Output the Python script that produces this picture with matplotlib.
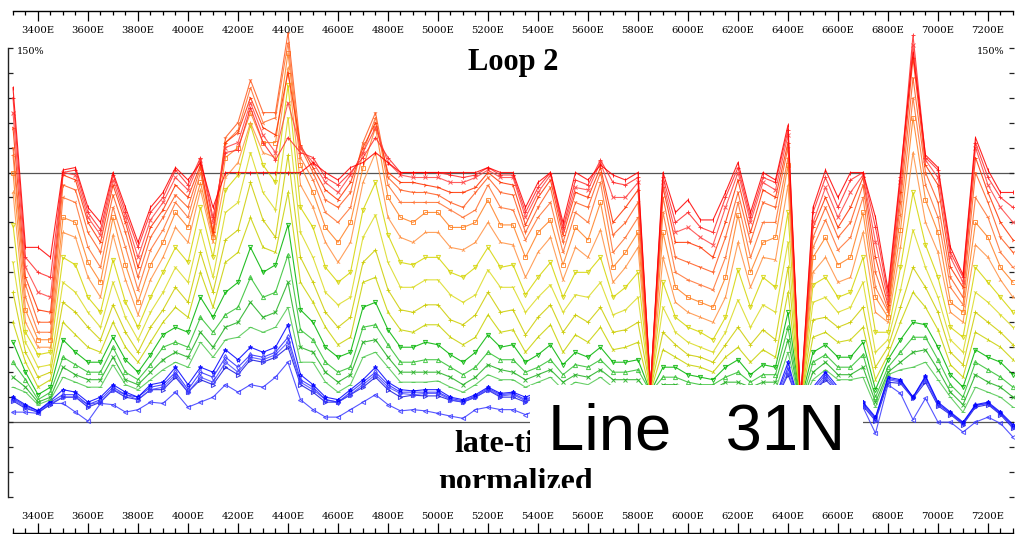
import matplotlib.pyplot as plt
from matplotlib.patches import Rectangle
from matplotlib.transforms import Bbox

# stations along Line 31N (easting, m)
stations = list(range(3300, 7350, 50))
tick_labels = ["%dE" % e for e in range(3400, 7201, 200)]

# channel responses, % (late-time normalized), early (red) -> late (blue)
ch01 = [134, 70, 70, 66, 101, 102, 86, 80, 100, 86, 72, 86, 92, 102, 97, 104, 86, 100, 100, 100, 100, 100, 100, 100, 104, 100, 97, 102, 104, 108, 104, 100, 100, 100, 100, 100, 100, 100, 102, 100, 100, 86, 96, 100, 80, 100, 97, 103, 99, 97, 100, 14, 100, 84, 89, 81, 81, 92, 104, 84, 100, 97, 119, 8, 86, 101, 90, 100, 100, 82, 53, 100, 148, 107, 102, 70, 59, 114, 101, 92, 92]
ch02 = [130, 66, 60, 58, 100, 101, 84, 77, 99, 84, 70, 84, 90, 101, 95, 106, 82, 108, 109, 126, 112, 105, 114, 108, 106, 98, 95, 100, 106, 114, 106, 100, 100, 100, 100, 99, 98, 99, 102, 99, 99, 84, 94, 100, 78, 97, 95, 105, 96, 95, 98, 14, 98, 80, 84, 78, 76, 90, 102, 82, 98, 96, 117, 8, 84, 98, 86, 97, 100, 78, 51, 98, 155, 106, 101, 68, 58, 112, 98, 90, 86]
ch03 = [124, 62, 52, 50, 100, 99, 82, 75, 97, 82, 66, 81, 88, 98, 93, 105, 80, 110, 112, 128, 115, 108, 128, 110, 104, 96, 92, 99, 108, 118, 104, 99, 98, 98, 98, 96, 96, 98, 101, 98, 98, 82, 92, 99, 77, 94, 93, 104, 90, 90, 96, 14, 96, 76, 78, 74, 71, 86, 100, 80, 96, 93, 115, 8, 80, 94, 82, 92, 99, 72, 49, 96, 151, 105, 98, 66, 56, 110, 95, 86, 80]
ch04 = [118, 58, 45, 44, 99, 97, 80, 72, 95, 80, 62, 78, 85, 95, 90, 103, 76, 112, 116, 130, 118, 115, 140, 111, 102, 93, 89, 96, 110, 120, 100, 96, 96, 95, 94, 92, 92, 94, 100, 96, 95, 79, 90, 97, 75, 92, 90, 102, 80, 86, 93, 14, 94, 72, 72, 70, 66, 80, 97, 76, 93, 90, 112, 8, 78, 90, 78, 86, 98, 66, 47, 92, 146, 103, 95, 62, 54, 106, 92, 80, 73]
ch05 = [110, 55, 40, 40, 95, 93, 76, 68, 91, 76, 58, 74, 82, 91, 86, 102, 76, 114, 120, 137, 124, 124, 156, 110, 100, 89, 86, 92, 112, 124, 98, 93, 92, 92, 91, 88, 86, 92, 98, 92, 91, 76, 86, 94, 72, 88, 86, 100, 75, 80, 88, 14, 90, 66, 64, 62, 60, 74, 92, 72, 88, 86, 110, 8, 74, 86, 74, 80, 95, 60, 45, 88, 138, 100, 88, 58, 50, 100, 88, 74, 68]
ch06 = [107, 50, 36, 36, 90, 88, 70, 62, 86, 70, 53, 69, 77, 88, 82, 100, 75, 112, 117, 134, 120, 122, 152, 106, 97, 84, 80, 86, 108, 122, 95, 88, 88, 88, 88, 85, 82, 85, 95, 86, 85, 73, 82, 88, 68, 84, 80, 96, 68, 74, 82, 14, 84, 60, 57, 55, 53, 66, 88, 66, 80, 80, 106, 8, 70, 81, 69, 74, 90, 54, 44, 83, 130, 95, 82, 54, 47, 90, 82, 68, 62]
ch07 = [100, 45, 33, 33, 82, 80, 64, 56, 82, 63, 48, 63, 72, 84, 78, 96, 74, 106, 110, 124, 112, 112, 148, 103, 92, 78, 72, 80, 102, 118, 90, 82, 80, 84, 84, 78, 78, 80, 89, 79, 79, 66, 76, 81, 63, 78, 73, 88, 62, 68, 76, 14, 76, 54, 50, 48, 46, 58, 83, 60, 72, 74, 103, 8, 66, 74, 63, 66, 84, 50, 42, 77, 122, 89, 76, 48, 44, 80, 74, 62, 56]
ch08 = [92, 40, 30, 30, 76, 74, 58, 50, 75, 57, 43, 57, 66, 78, 72, 93, 72, 98, 104, 120, 108, 106, 142, 95, 86, 72, 64, 72, 96, 108, 82, 74, 72, 76, 76, 70, 69, 72, 80, 72, 71, 58, 68, 74, 57, 70, 66, 77, 56, 62, 70, 13, 66, 48, 44, 42, 40, 50, 72, 54, 66, 65, 95, 8, 60, 66, 56, 58, 76, 44, 40, 70, 108, 80, 68, 44, 40, 71, 66, 57, 50]
ch09 = [79, 36, 27, 28, 66, 63, 50, 44, 65, 48, 38, 50, 60, 70, 64, 86, 66, 93, 99, 119, 103, 96, 135, 86, 78, 62, 56, 60, 85, 96, 75, 64, 63, 66, 66, 60, 58, 62, 70, 62, 63, 51, 58, 64, 50, 60, 60, 66, 50, 54, 60, 13, 56, 42, 38, 36, 33, 42, 61, 46, 58, 54, 84, 8, 55, 58, 50, 52, 66, 36, 36, 62, 92, 71, 58, 38, 34, 62, 56, 50, 44]
ch10 = [64, 32, 22, 23, 56, 52, 44, 38, 56, 42, 33, 44, 52, 62, 56, 77, 58, 84, 88, 108, 92, 85, 122, 76, 66, 52, 47, 50, 74, 83, 64, 54, 54, 57, 57, 51, 48, 51, 61, 54, 54, 44, 50, 55, 44, 51, 50, 56, 43, 45, 50, 13, 46, 36, 32, 30, 28, 36, 49, 38, 47, 44, 72, 8, 48, 50, 44, 46, 56, 28, 33, 53, 77, 62, 50, 33, 28, 52, 48, 43, 38]
ch11 = [52, 28, 18, 20, 48, 44, 38, 33, 47, 36, 28, 38, 45, 54, 48, 68, 52, 73, 77, 96, 81, 74, 107, 66, 56, 44, 38, 42, 64, 69, 53, 45, 44, 47, 47, 41, 39, 43, 52, 44, 45, 35, 42, 47, 36, 43, 40, 46, 36, 37, 40, 13, 36, 31, 27, 26, 24, 31, 38, 31, 37, 33, 62, 8, 41, 42, 38, 40, 46, 22, 30, 46, 62, 54, 44, 28, 23, 44, 40, 36, 31]
ch12 = [40, 24, 14, 17, 40, 35, 30, 28, 40, 30, 24, 32, 40, 46, 42, 60, 46, 64, 68, 82, 70, 68, 92, 56, 48, 38, 31, 34, 56, 58, 44, 37, 36, 39, 39, 34, 31, 34, 43, 36, 37, 28, 34, 39, 28, 35, 32, 38, 29, 30, 32, 12, 29, 26, 23, 22, 20, 26, 30, 24, 29, 26, 52, 8, 34, 36, 32, 33, 38, 17, 27, 40, 52, 46, 37, 23, 18, 36, 33, 30, 25]
ch13 = [32, 20, 11, 14, 33, 28, 24, 24, 34, 25, 20, 27, 35, 38, 36, 50, 42, 52, 56, 70, 60, 63, 79, 45, 40, 30, 26, 28, 46, 48, 37, 30, 30, 32, 31, 27, 24, 28, 35, 30, 31, 24, 27, 31, 23, 28, 26, 30, 24, 24, 25, 12, 22, 22, 19, 18, 17, 22, 25, 19, 23, 22, 44, 8, 28, 31, 26, 26, 32, 13, 25, 33, 40, 39, 30, 19, 14, 29, 26, 24, 19]
ch14 = [24, 17, 9, 12, 26, 23, 20, 20, 30, 20, 17, 23, 30, 32, 30, 42, 36, 43, 46, 58, 50, 52, 67, 37, 33, 24, 20, 22, 38, 39, 31, 24, 24, 25, 25, 22, 19, 22, 28, 25, 25, 20, 22, 25, 19, 23, 22, 25, 20, 20, 21, 12, 18, 18, 16, 15, 15, 18, 20, 16, 19, 19, 38, 7, 24, 27, 22, 22, 27, 10, 22, 28, 34, 34, 25, 15, 10, 24, 21, 18, 14]
ch15 = [18, 14, 8, 10, 22, 19, 17, 17, 26, 17, 15, 20, 25, 28, 26, 36, 30, 38, 40, 48, 42, 44, 56, 30, 28, 20, 16, 19, 32, 33, 26, 20, 20, 20, 20, 18, 15, 18, 23, 21, 20, 17, 19, 21, 16, 19, 18, 21, 17, 17, 17, 11, 15, 15, 14, 13, 13, 16, 16, 14, 16, 16, 33, 7, 20, 24, 19, 19, 22, 8, 20, 24, 28, 29, 21, 12, 7, 19, 16, 14, 10]
ch16 = [14, 12, 7, 9, 18, 16, 14, 14, 23, 15, 13, 17, 21, 24, 22, 32, 26, 33, 34, 38, 36, 38, 46, 24, 24, 16, 12, 15, 26, 28, 22, 16, 16, 16, 16.5, 14, 12, 15, 19, 17, 17, 14, 16, 18, 13, 16, 15, 18, 14, 14, 14, 11, 13, 13, 12, 11, 11, 13, 14, 12, 13, 13, 28, 7, 17, 21, 17, 17, 18, 6, 19, 21, 22, 24, 17, 10, 4, 14, 12, 10, 6]
ch17 = [10, 7, 4.5, 8.5, 13, 12, 8, 10, 15, 12, 10, 15, 16, 22, 15, 22, 20, 29, 25, 30, 28, 30, 39, 19, 15, 10, 9, 13, 17, 22, 16, 13, 12.5, 13, 13, 10, 9, 11, 14, 11.5, 12, 10, 12, 14, 10, 12, 11, 14, 11, 11, 11, 10, 10, 10, 9, 9, 8, 10, 11, 9, 10, 10, 24, 6, 14, 20, 14, 13, 8, 2, 18, 17, 10, 18.5, 8, 4, 0, 7, 8, 4, -1]
ch18 = [9.5, 6.5, 4.5, 8, 11, 11, 7, 9, 14, 11, 10, 14, 15, 20, 13, 20, 18, 26, 22, 27, 26, 28, 34, 17, 14, 9, 8, 12, 16, 20, 15, 12, 12, 12, 12, 9.5, 8.5, 10.5, 13.5, 11, 11.5, 9, 11.5, 13, 9.5, 11, 10.5, 13, 10.5, 10.5, 10.5, 10, 9.5, 9.5, 8.5, 8.5, 7.5, 9.5, 10.5, 8.5, 9.5, 9.5, 22, 6, 13, 19, 13, 12.5, 7.5, 1.5, 17.5, 16.5, 10, 18, 7.5, 3.5, -0.5, 6.8, 7.5, 3.5, -1.5]
ch19 = [9, 6, 4, 7.5, 10, 10, 7, 8, 13, 11, 9, 13, 14, 19, 12, 18, 16, 24, 20, 26, 25, 27, 32, 16, 13, 9, 8, 11, 15, 19, 14, 11.5, 11, 11.5, 11.5, 9, 8, 10, 13, 10.5, 11, 8.5, 11, 12.5, 9, 10.5, 10, 12.5, 10, 10, 10, 10, 9, 9, 8, 8, 7, 9, 10, 8, 9, 9, 20, 6, 12, 18, 12.5, 12, 7, 1, 17, 16, 10, 17, 7, 3.5, -0.5, 6.5, 7.5, 3.5, -2]
ch20 = [8.5, 5.5, 4, 7, 10, 10, 6, 8, 13, 10, 9, 13, 13, 18, 12, 17, 15, 22, 19, 25, 24, 26, 30, 15, 12, 8, 8, 11, 14, 18, 13, 10, 10.8, 10.5, 10.5, 8.8, 8, 10, 12.8, 10, 10, 8, 10.5, 12, 8.5, 10, 9.5, 12, 9.5, 9.5, 9.5, 10, 8.5, 8.5, 8, 8, 7, 8.5, 9.5, 8, 8.5, 8.5, 19, 6, 12, 17, 12, 11.5, 6.5, 0.5, 16, 15.5, 9.5, 16, 6.5, 3, -1, 6, 7, 3, -2.5]
ch21 = [4, 4, 3.5, 7.5, 7.5, 4, 0.4, 7.5, 7, 4, 5, 8, 7.5, 12, 6, 8, 10, 15, 12, 15, 14, 18, 24, 9, 5, 2, 2, 5, 8, 11, 7, 4.5, 5, 4.5, 3.5, 2.4, 1.5, 5, 6, 5, 5, 3, 5, 6, 3, 4, 4, 5, 4, 4, 4, 5, 4, 4, 3, 3, 2, 4, 4, 3, 4, 4, 14, 3, 6, 10, 6, 5, 6, -4.5, 15, 11.5, 1, 9.5, 0, 0, -4, 0, 2, -0.5, -6]

channels = [ch01, ch02, ch03, ch04, ch05, ch06, ch07, ch08, ch09, ch10, ch11,
            ch12, ch13, ch14, ch15, ch16, ch17, ch18, ch19, ch20, ch21]

colors = ['#ff0000', '#ff2a2a', '#ff4444', '#ff3300', '#ff5a1e', '#ff7030', '#ff7f20',
          '#ff9040', '#d4d400', '#dada20', '#cccc00', '#c8d000', '#00b400', '#30c030',
          '#20b020', '#50c850', '#0000ff', '#2a2aff', '#4848ff', '#1515e0', '#3838ff']
markers = ['|', '+', 'x', '4', '1', '3', 's', '2', 'v', '1', '+', '2', 'v', '^',
           'x', '_', '*', 'd', 'P', '>', '<']

W, H = 1015, 534
fig = plt.figure(figsize=(W / 100, H / 100), dpi=100)


def fx(px):
    return px / W


def fy(py):
    return 1 - py / H


ax = fig.add_axes([fx(8), fy(497), fx(1014) - fx(8), fy(47.7) - fy(497)])
ax.set_xlim(3280, 7304)
ax.set_ylim(-30, 150)

for k in range(len(channels) - 1, -1, -1):
    ax.plot(stations, channels[k], color=colors[k], lw=0.8, alpha=0.85,
            marker=markers[k], ms=3.0, mew=0.7, mfc='none', clip_on=False,
            zorder=2 + (20 - k) * 0.01)

ax.axhline(100, color='#555555', lw=0.9, zorder=1)
ax.axhline(0, color='#555555', lw=0.9, zorder=1)

for s in ['top', 'bottom', 'right']:
    ax.spines[s].set_visible(False)
ax.spines['left'].set_color('#222222')
ax.spines['left'].set_linewidth(1.0)
ax.set_xticks([])
ax.set_yticks(range(-30, 151, 10))
ax.tick_params(axis='y', direction='in', length=3.6, width=0.9, color='#222222',
               left=True, right=True, labelleft=False)

# station rulers top and bottom
ruler_w = fx(1013) - fx(13)
top = fig.add_axes([fx(13), fy(11), ruler_w, 0.0001])
bot = fig.add_axes([fx(13), fy(533), ruler_w, 0.0001])
for r in (top, bot):
    r.set_xlim(3300, 7300)
    r.set_yticks([])
    r.patch.set_visible(False)
    for s in ['top', 'bottom', 'left', 'right']:
        r.spines[s].set_visible(False)
    r.set_xticks(range(3400, 7201, 200))
    r.set_xticklabels(tick_labels, family='serif', fontsize=7.3)
    r.set_xticks(range(3300, 7301, 50), minor=True)
top.spines['bottom'].set_visible(True)
top.spines['bottom'].set_linewidth(1.0)
top.tick_params(which='major', direction='out', length=7, width=0.9, pad=3.5)
top.tick_params(which='minor', direction='out', length=3, width=0.9)
bot.xaxis.tick_top()
bot.spines['top'].set_visible(True)
bot.spines['top'].set_linewidth(1.0)
bot.tick_params(which='major', direction='out', length=7, width=0.9, pad=1.5)
bot.tick_params(which='minor', direction='out', length=3.5, width=0.9)

fig.text(fx(17), fy(51), '150%', ha='left', va='center', fontsize=7, family='serif')
fig.text(fx(1004), fy(51), '150%', ha='right', va='center', fontsize=7, family='serif')

fig.text(fx(513), fy(70), 'Loop 2', ha='center', va='baseline', fontsize=22,
         fontweight='bold', family='Liberation Serif')
t1 = fig.text(fx(515), fy(452), 'late-time', ha='center', va='baseline', fontsize=23,
              fontweight='bold', family='Liberation Serif', zorder=4)
t1.set_clip_box(Bbox([[0, 0], [530, H]]))
t1.set_clip_on(True)
t2 = fig.text(fx(515), fy(490), 'normalized', ha='center', va='baseline', fontsize=23,
              fontweight='bold', family='Liberation Serif', zorder=4)
t2.set_clip_box(Bbox([[0, fy(487.5) * H], [W, H]]))
t2.set_clip_on(True)

fig.add_artist(Rectangle((fx(530), fy(462)), fx(863) - fx(530), (462 - 385) / H,
                         transform=fig.transFigure, facecolor='white',
                         edgecolor='none', zorder=5))
fig.text(fx(548), fy(450), 'Line   31N', ha='left', va='baseline', fontsize=47,
         family='Liberation Sans', zorder=6)

fig.savefig('out.png', dpi=100)
